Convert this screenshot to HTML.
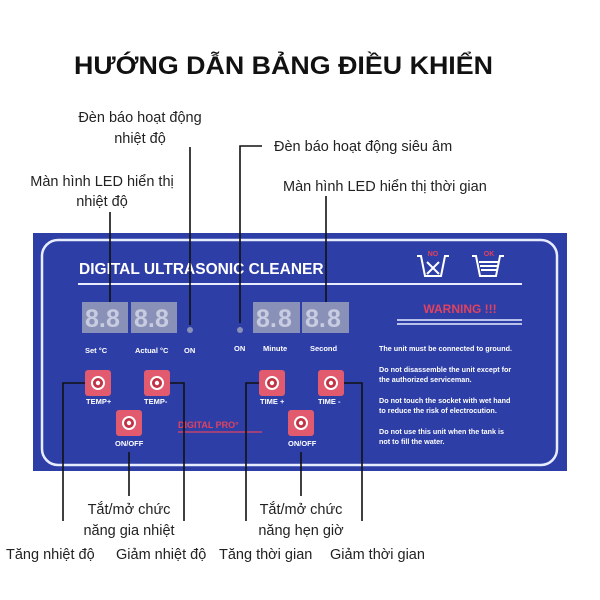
<!DOCTYPE html>
<html><head><meta charset="utf-8"><style>
html,body{margin:0;padding:0;background:#fff;width:600px;height:600px;overflow:hidden}
svg{display:block}
.lb{font-family:"Liberation Sans","DejaVu Sans",sans-serif;font-size:14.5px;fill:#222}
.pw{font-family:"Liberation Sans",sans-serif;font-weight:bold;fill:#fff}
.ln{stroke:#111;stroke-width:1.6;fill:none}
.dg{font-family:"Liberation Sans",sans-serif;font-weight:bold;font-size:25px;fill:#c8cce0}
</style></head><body>
<svg width="600" height="600" viewBox="0 0 600 600" xmlns="http://www.w3.org/2000/svg">
<text x="74" y="74" textLength="419" lengthAdjust="spacingAndGlyphs" font-family="Liberation Sans,DejaVu Sans,sans-serif" font-weight="bold" font-size="25" fill="#111">HƯỚNG DẪN BẢNG ĐIỀU KHIỂN</text>

<text class="lb" x="140" y="122" text-anchor="middle">Đèn báo hoạt động</text>
<text class="lb" x="140" y="143" text-anchor="middle">nhiệt độ</text>
<text class="lb" x="274" y="151">Đèn báo hoạt động siêu âm</text>
<text class="lb" x="102" y="186" text-anchor="middle">Màn hình LED hiển thị</text>
<text class="lb" x="102" y="206" text-anchor="middle">nhiệt độ</text>
<text class="lb" x="283" y="191">Màn hình LED hiển thị thời gian</text>

<rect x="33" y="233" width="534" height="238" fill="#2d3ea6"/>
<rect x="42" y="240" width="515" height="225" rx="16" fill="none" stroke="#e8ecff" stroke-width="2.5"/>
<text class="pw" x="79" y="274" font-size="15.5">DIGITAL ULTRASONIC CLEANER</text>
<line x1="78" y1="284" x2="522" y2="284" stroke="#e8ecff" stroke-width="2"/>
<g stroke="#fff" stroke-width="2" fill="none">
<path d="M417 256 h4 l4 20 h16 l4 -20 h4"/><path d="M427 262 l12 12 M439 262 l-12 12"/>
<path d="M472 256 h4 l4 20 h16 l4 -20 h4"/><path d="M479 262 h20 M480 266 h18 M481 270 h16"/>
</g>
<text x="433" y="256" text-anchor="middle" font-family="Liberation Sans,sans-serif" font-weight="bold" font-size="7" fill="#e0435f">NO</text>
<text x="489" y="256" text-anchor="middle" font-family="Liberation Sans,sans-serif" font-weight="bold" font-size="7" fill="#e0435f">OK</text>
<text x="460" y="313" text-anchor="middle" font-family="Liberation Sans,sans-serif" font-weight="bold" font-size="12" fill="#e0435f">WARNING !!!</text>
<line x1="397" y1="320" x2="522" y2="320" stroke="#e8ecff" stroke-width="1.5"/>
<line x1="397" y1="324" x2="522" y2="324" stroke="#e8ecff" stroke-width="1.5"/>
<g font-family="Liberation Sans,sans-serif" font-weight="bold" font-size="7.2" fill="#fff">
<text x="379" y="351">The unit must be connected to ground.</text>
<text x="379" y="372">Do not disassemble the unit except  for</text>
<text x="379" y="382">the authorized serviceman.</text>
<text x="379" y="403">Do not touch the socket with wet hand</text>
<text x="379" y="413">to reduce the risk of electrocution.</text>
<text x="379" y="434">Do not use this unit when the tank is</text>
<text x="379" y="444">not to fill the water.</text>
</g>
<g fill="#8a91b8">
<rect x="82" y="302" width="46" height="31"/><rect x="131" y="302" width="46" height="31"/>
<rect x="253" y="302" width="47" height="31"/><rect x="302" y="302" width="47" height="31"/>
</g>
<g class="dg">
<text x="85" y="327">8.</text><text x="106" y="327">8</text>
<text x="134" y="327">8.</text><text x="155" y="327">8</text>
<text x="256" y="327">8.</text><text x="278" y="327">8</text>
<text x="305" y="327">8.</text><text x="327" y="327">8</text>
</g>
<circle cx="190" cy="330" r="3" fill="#8a91b8"/><circle cx="240" cy="330" r="3" fill="#8a91b8"/>
<g font-family="Liberation Sans,sans-serif" font-weight="bold" font-size="7.5" fill="#fff">
<text x="85" y="353">Set  °C</text><text x="135" y="353">Actual °C</text><text x="184" y="353">ON</text>
<text x="234" y="351">ON</text><text x="263" y="351">Minute</text><text x="310" y="351">Second</text>
<text x="86" y="404">TEMP+</text><text x="144" y="404">TEMP-</text>
<text x="260" y="404">TIME +</text><text x="318" y="404">TIME -</text>
<text x="115" y="446">ON/OFF</text><text x="288" y="446">ON/OFF</text>
</g>
<text x="178" y="428" font-family="Liberation Sans,sans-serif" font-weight="bold" font-size="9" fill="#e0435f">DIGITAL PRO°</text>
<line x1="178" y1="432" x2="262" y2="432" stroke="#e0435f" stroke-width="1.2"/>
<g>
<g transform="translate(98,383)"><rect x="-13" y="-13" width="26" height="26" rx="3" fill="#e25a6e"/><circle r="7" fill="#fff"/><circle r="5" fill="#c13244"/><circle r="2.2" fill="#fff"/></g>
<g transform="translate(157,383)"><rect x="-13" y="-13" width="26" height="26" rx="3" fill="#e25a6e"/><circle r="7" fill="#fff"/><circle r="5" fill="#c13244"/><circle r="2.2" fill="#fff"/></g>
<g transform="translate(129,423)"><rect x="-13" y="-13" width="26" height="26" rx="3" fill="#e25a6e"/><circle r="7" fill="#fff"/><circle r="5" fill="#c13244"/><circle r="2.2" fill="#fff"/></g>
<g transform="translate(272,383)"><rect x="-13" y="-13" width="26" height="26" rx="3" fill="#e25a6e"/><circle r="7" fill="#fff"/><circle r="5" fill="#c13244"/><circle r="2.2" fill="#fff"/></g>
<g transform="translate(301,423)"><rect x="-13" y="-13" width="26" height="26" rx="3" fill="#e25a6e"/><circle r="7" fill="#fff"/><circle r="5" fill="#c13244"/><circle r="2.2" fill="#fff"/></g>
<g transform="translate(331,383)"><rect x="-13" y="-13" width="26" height="26" rx="3" fill="#e25a6e"/><circle r="7" fill="#fff"/><circle r="5" fill="#c13244"/><circle r="2.2" fill="#fff"/></g>
</g>
<path class="ln" d="M110 212 V302"/>
<path class="ln" d="M190 147 V325"/>
<path class="ln" d="M262 146 H240 V323"/>
<path class="ln" d="M326 196 V302"/>
<path class="ln" d="M85 383 H63 V521"/>
<path class="ln" d="M170 383 H184 V521"/>
<path class="ln" d="M129 452 V496"/>
<path class="ln" d="M259 383 H246 V521"/>
<path class="ln" d="M301 452 V496"/>
<path class="ln" d="M344 383 H362 V521"/>

<text class="lb" x="129" y="514" text-anchor="middle">Tắt/mở chức</text>
<text class="lb" x="129" y="535" text-anchor="middle">năng gia nhiệt</text>
<text class="lb" x="301" y="514" text-anchor="middle">Tắt/mở chức</text>
<text class="lb" x="301" y="535" text-anchor="middle">năng hẹn giờ</text>
<text class="lb" x="6" y="559">Tăng nhiệt độ</text>
<text class="lb" x="116" y="559">Giảm nhiệt độ</text>
<text class="lb" x="219" y="559">Tăng thời gian</text>
<text class="lb" x="330" y="559">Giảm thời gian</text>
</svg>
</body></html>
